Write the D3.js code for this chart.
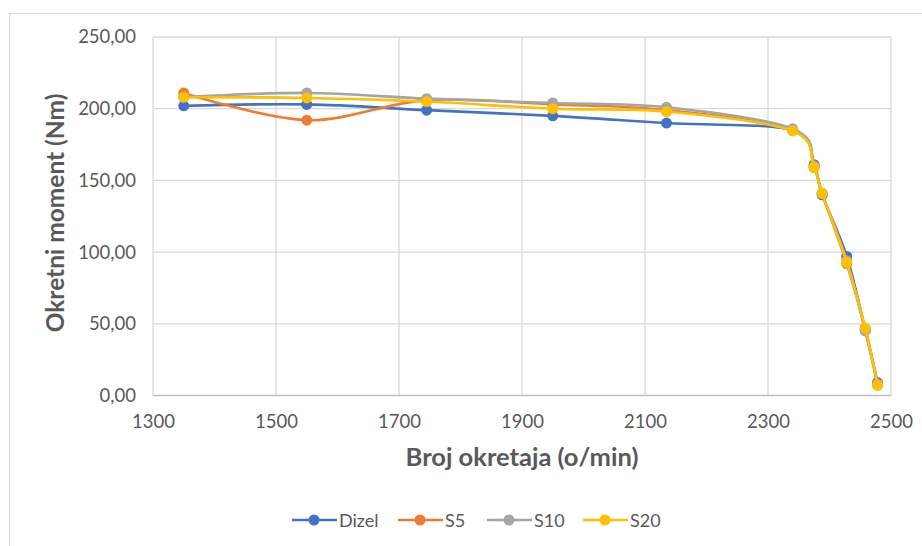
<!DOCTYPE html>
<html><head><meta charset="utf-8">
<script src="https://cdn.jsdelivr.net/npm/d3@7"></script>
<style>
html,body{margin:0;padding:0;background:#fff;}
svg{display:block;font-family:Lato,"Open Sans",sans-serif;}
</style></head>
<body><svg id="c" width="922" height="546"></svg>
<script>
const rpm   = [1350,1550,1745,1950,2135,2340,2375,2388,2428,2458,2478];
const dizel = [202,203,199,195,190,185,161,140,97,46,9];
const s5    = [211,192,206,203,199,185,159,141,92,47,8];
const s10   = [208,211,207,204,201,186,160,141,94,45,8];
const s20   = [208,207.5,205,200,198,184.5,159,141,93,47,7];
const seriesNames = ["Dizel","S5","S10","S20"];
const seriesColors = ["#4472C4","#ED7D31","#A5A5A5","#FFC000"];
const xTicks = [1300,1500,1700,1900,2100,2300,2500];
const yTicks = [0,50,100,150,200,250];
const xTitle = "Broj okretaja (o/min)";
const yTitle = "Okretni moment (Nm)";

const svg = d3.select("#c");
svg.append("rect").attr("x",9.5).attr("y",13.5).attr("width",1000).attr("height",1000)
  .attr("fill","#fff").attr("stroke","#d9d9d9");

const L=153,R=891,T=37,B=395.5;
const x = d3.scaleLinear().domain([1300,2500]).range([L,R]);
const y = d3.scaleLinear().domain([0,250]).range([B,T]);

const g = svg.append("g");
g.selectAll(".vg").data(xTicks).enter().append("line")
  .attr("x1",d=>x(d)).attr("x2",d=>x(d)).attr("y1",T).attr("y2",B)
  .attr("stroke","#d9d9d9").attr("stroke-width",1.3);
g.selectAll(".hg").data(yTicks).enter().append("line")
  .attr("x1",L).attr("x2",R).attr("y1",d=>y(d)).attr("y2",d=>y(d))
  .attr("stroke",d=>d===0?"#bfbfbf":"#d9d9d9").attr("stroke-width",1.3);

const fmt = d => d3.format(".2f")(d).replace(".",",");
const ax = svg.append("g").attr("transform",`translate(0,${B})`)
  .call(d3.axisBottom(x).tickValues(xTicks).tickSize(0).tickPadding(19).tickFormat(d3.format("d")));
ax.select(".domain").remove();
ax.selectAll("text").attr("fill","#595959").style("font-size","18.5px").style("font-family","Lato,sans-serif");
const ay = svg.append("g").attr("transform",`translate(${L},0)`)
  .call(d3.axisLeft(y).tickValues(yTicks).tickSize(0).tickPadding(17).tickFormat(fmt));
ay.select(".domain").remove();
ay.selectAll("text").attr("fill","#595959").style("font-size","18.5px").style("font-family","Lato,sans-serif");

svg.append("text").attr("x",522).attr("y",466).attr("text-anchor","middle")
  .attr("fill","#595959").style("font-size","25.5px").style("font-weight","bold").text(xTitle);
svg.append("text").attr("transform","translate(64,213) rotate(-90)").attr("text-anchor","middle")
  .attr("fill","#595959").style("font-size","24.5px").style("font-weight","bold").text(yTitle);

const data = [dizel,s5,s10,s20];
const line = d3.line().x((d,i)=>x(rpm[i])).y(d=>y(d)).curve(d3.curveCatmullRom.alpha(0));
data.forEach((vals,k)=>{
  const sg = svg.append("g");
  sg.append("path").attr("d",line(vals)).attr("fill","none")
    .attr("stroke",seriesColors[k]).attr("stroke-width",2.6);
  sg.selectAll("circle").data(vals).enter().append("circle")
    .attr("cx",(d,i)=>x(rpm[i])).attr("cy",d=>y(d)).attr("r",5.5)
    .attr("fill",seriesColors[k]);
});

const legX = [292,398,487,583];
const lg = svg.append("g");
seriesNames.forEach((n,k)=>{
  const gx = legX[k], gy = 520;
  lg.append("line").attr("x1",gx).attr("x2",gx+45).attr("y1",gy).attr("y2",gy)
    .attr("stroke",seriesColors[k]).attr("stroke-width",2.6);
  lg.append("circle").attr("cx",gx+22).attr("cy",gy).attr("r",5.5).attr("fill",seriesColors[k]);
  lg.append("text").attr("x",gx+47).attr("y",gy+6.5).attr("fill","#595959")
    .style("font-size","18px").text(n);
});
</script></body></html>
